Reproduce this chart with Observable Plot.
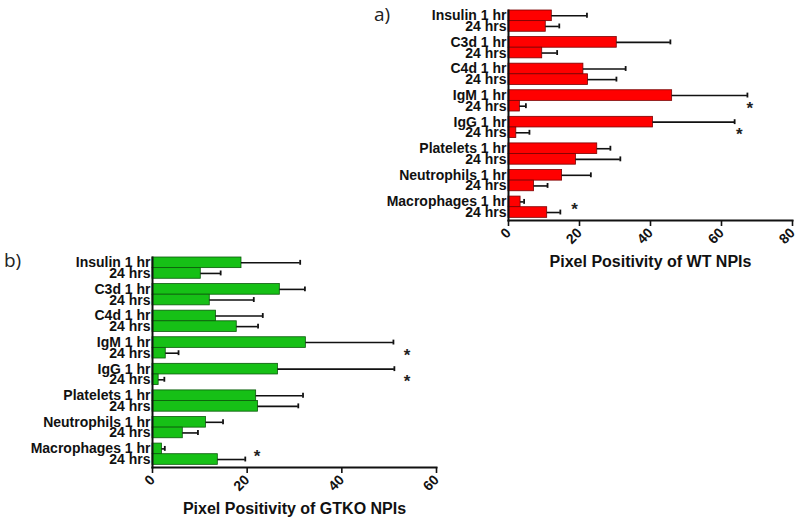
<!DOCTYPE html>
<html>
<head>
<meta charset="utf-8">
<script src="https://cdn.jsdelivr.net/npm/d3@7"></script>
<script src="https://cdn.jsdelivr.net/npm/@observablehq/plot@0.6"></script>
<style>
  html, body { margin: 0; padding: 0; background: #fff; }
  #wrap { position: relative; width: 800px; height: 526px; overflow: hidden; font-family: "Liberation Sans", Arial, sans-serif; }
  .panel { position: absolute; }
  .tag { position: absolute; font-family: "Open Sans", "Liberation Sans", sans-serif; font-size: 19px; color: #222; line-height: 1; }
</style>
</head>
<body>
<div id="wrap">
  <div class="tag" style="left:374px; top:5px;">a)</div>
  <div class="tag" style="left:4px; top:251px;">b)</div>
  <div class="panel" id="pa" style="left:340px; top:0px;"></div>
  <div class="panel" id="pb" style="left:0px; top:240px;"></div>
</div>
<script>
// ---- data ----
const categories = ["Insulin", "C3d", "C4d", "IgM", "IgG", "Platelets", "Neutrophils", "Macrophages"];
const timepoints = ["1 hr", "24 hrs"];

// WT NPIs (panel a)
const wtMean1hr  = [12.2, 30.5, 21.1, 46.1, 40.7, 25.0, 15.1, 3.4];
const wtSem1hr   = [9.9, 15.1, 11.9, 21.2, 23.0, 3.7, 8.1, 1.0];
const wtMean24hr = [10.5, 9.5, 22.4, 3.2, 2.2, 19.0, 7.2, 10.9];
const wtSem24hr  = [3.8, 4.2, 8.0, 1.7, 3.7, 12.5, 3.8, 3.7];

// GTKO NPIs (panel b)
const koMean1hr  = [18.8, 26.9, 13.4, 32.4, 26.5, 21.9, 11.3, 2.0];
const koSem1hr   = [12.4, 5.3, 9.9, 18.5, 24.6, 9.9, 3.6, 0.6];
const koMean24hr = [10.2, 12.1, 17.8, 2.8, 1.3, 22.3, 6.4, 13.8];
const koSem24hr  = [4.2, 9.3, 4.5, 2.7, 1.2, 8.5, 3.2, 5.8];

// significance markers: category, x value where star sits, row offset within group
const wtStars = [
  {category: "IgM", x: 68, row: 1.5},
  {category: "IgG", x: 65, row: 1.5},
  {category: "Macrophages", x: 18.6, row: 1.0}
];
const koStars = [
  {category: "IgM", x: 53.8, row: 1.5},
  {category: "IgG", x: 53.8, row: 1.5},
  {category: "Macrophages", x: 22.1, row: 1.0}
];

const wtTicks = [0, 20, 40, 60, 80];
const koTicks = [0, 20, 40, 60];

// ---- build tables ----
const GROUP = 2.5; // group spacing in bar units
function buildRows(m1, s1, m24, s24) {
  const rows = [];
  categories.forEach((c, g) => {
    [[m1, s1], [m24, s24]].forEach(([m, s], j) => {
      rows.push({
        category: c, time: timepoints[j],
        label: j === 0 ? c + " " + timepoints[0] : timepoints[1],
        mean: m[g], end: m[g] + s[g],
        pos: g * GROUP + j
      });
    });
  });
  return rows;
}

function chart({rows, stars, ticks, xmax, fill, stroke, title, width, height, mt, mb, ml, mr}) {
  const ymax = (categories.length - 1) * GROUP + 2.25;
  const gi = c => categories.indexOf(c);
  return Plot.plot({
    width, height,
    marginTop: mt, marginBottom: mb, marginLeft: ml, marginRight: mr,
    style: {fontFamily: "'Liberation Sans', Arial, sans-serif", fontWeight: "bold", fontSize: "14px", color: "#111", background: "transparent"},
    x: {domain: [0, xmax], axis: null},
    y: {domain: [0, ymax], reverse: true, axis: null},
    marks: [
      Plot.rect(rows, {x1: 0, x2: "mean", y1: "pos", y2: d => d.pos + 1, fill, stroke, strokeWidth: 0.8}),
      Plot.ruleY(rows, {y: d => d.pos + 0.5, x1: "mean", x2: "end", stroke: "#111", strokeWidth: 1.6}),
      Plot.ruleX(rows, {x: "end", y1: d => d.pos + 0.27, y2: d => d.pos + 0.73, stroke: "#111", strokeWidth: 1.8}),
      Plot.text(rows, {x: 0, y: d => d.pos + 0.5, text: "label", textAnchor: "end", dx: -2, fontSize: 14, fontWeight: "bold", fill: "#111"}),
      Plot.text(stars, {x: "x", y: d => gi(d.category) * GROUP + d.row, text: () => "*", fontSize: 17, fontWeight: "bold", fill: "#222", dy: 2}),
      Plot.frame({anchor: "left", strokeWidth: 2, stroke: "#111"}),
      Plot.frame({anchor: "bottom", strokeWidth: 2, stroke: "#111"}),
      Plot.axisX({ticks, tickSize: 6, tickRotate: -45, tickPadding: 4, label: null, fontSize: 14, fontWeight: "bold", strokeWidth: 1.6, stroke: "#111"}),
      Plot.text([title], {frameAnchor: "bottom", dy: 46, text: d => d, fontSize: 16, fontWeight: "bold", fill: "#111"})
    ]
  });
}

document.getElementById("pa").append(chart({
  rows: buildRows(wtMean1hr, wtSem1hr, wtMean24hr, wtSem24hr),
  stars: wtStars, ticks: wtTicks, xmax: 80,
  fill: "#ff0000", stroke: "#7a0000",
  title: "Pixel Positivity of WT NPIs",
  width: 460, height: 280, mt: 10, mb: 60, ml: 168, mr: 8
}));

document.getElementById("pb").append(chart({
  rows: buildRows(koMean1hr, koSem1hr, koMean24hr, koSem24hr),
  stars: koStars, ticks: koTicks, xmax: 60,
  fill: "#16c016", stroke: "#0a5a0a",
  title: "Pixel Positivity of GTKO NPIs",
  width: 450, height: 283, mt: 17, mb: 56, ml: 152, mr: 14
}));
</script>
</body>
</html>
